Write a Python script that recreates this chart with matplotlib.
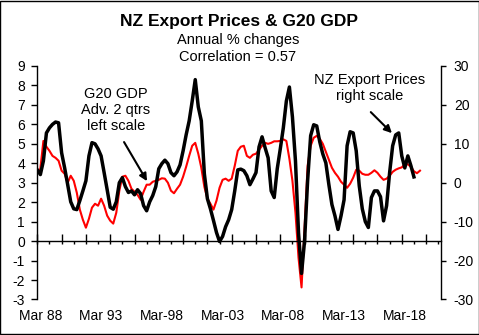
import numpy as np
import matplotlib
matplotlib.use("Agg")
import matplotlib.pyplot as plt
from matplotlib.patches import Rectangle

plt.rcParams['font.family'] = ['Liberation Sans', 'DejaVu Sans']
plt.rcParams['axes.unicode_minus'] = False

# Quarterly series, first observation Mar 1988
start_year = 1988.0

# NZ export prices, annual % change (right scale)
nz_export_prices = [
    3.3, 2.1, 5.6, 12.8, 14.1, 15.0, 15.6, 15.4, 7.7, 3.8,
    -0.5, -4.9, -6.7, -6.9, -4.6, -2.1, 0.5, 6.9, 10.3, 10.0,
    8.7, 6.9, 2.6, -1.8, -6.3, -6.8, -4.9, 0.0, 1.3, -1.0,
    -2.5, -2.1, -3.1, -1.8, -2.8, -5.9, -7.2, -4.9, -3.3, -1.0,
    3.6, 4.9, 5.8, 4.9, 2.6, 1.8, 2.8, 4.6, 8.2, 12.3,
    15.9, 21.0, 26.5, 19.5, 15.9, 2.3, -4.1, -6.7, -9.7, -12.8,
    -15.1, -13.8, -11.3, -9.5, -6.9, -2.1, 3.3, 3.5, 3.1, 1.8,
    -0.5, 1.0, 2.6, 9.2, 11.8, 9.0, 6.4, -2.1, -3.8, 3.6,
    8.7, 14.1, 21.0, 24.6, 16.9, 5.6, -12.8, -23.3, -14.9, 0.5,
    12.1, 14.9, 14.6, 10.5, 7.4, 5.1, -0.5, -5.6, -8.5, -12.0,
    -8.5, -4.4, 9.5, 13.1, 12.8, 8.2, -0.8, -6.7, -10.0, -11.5,
    -3.8, -2.1, -2.1, -3.6, -9.8, -5.9, 2.6, 9.5, 12.3, 12.8,
    6.9, 3.8, 6.9, 4.4, 1.5,
]

# G20 GDP, annual % change, advanced 2 quarters (left scale)
g20_gdp = [
    3.51, 3.72, 5.15, 4.85, 4.64, 4.38, 4.28, 4.13, 3.62, 3.46,
    3.00, 3.36, 3.10, 2.49, 1.62, 1.10, 0.69, 1.15, 1.72, 1.92,
    1.82, 2.18, 1.82, 1.31, 1.05, 0.90, 1.46, 2.59, 3.31, 3.36,
    3.10, 2.69, 2.54, 2.38, 2.13, 2.54, 2.90, 2.90, 3.05, 3.10,
    3.15, 3.23, 3.21, 3.00, 2.59, 2.46, 2.69, 2.90, 3.31, 3.82,
    4.38, 4.90, 5.05, 4.49, 3.77, 2.79, 2.18, 1.92, 1.62, 2.08,
    2.74, 3.15, 3.21, 3.10, 3.21, 3.87, 4.64, 4.85, 4.90, 4.38,
    4.28, 4.44, 4.49, 4.69, 4.90, 5.05, 5.00, 5.05, 5.13, 5.13,
    5.15, 5.23, 5.15, 4.23, 3.10, 1.46, -0.85, -2.38, 0.70, 3.87,
    4.90, 5.31, 5.41, 5.26, 5.00, 4.59, 4.18, 3.77, 3.51, 3.31,
    3.05, 2.90, 2.74, 2.95, 3.26, 3.67, 3.62, 3.46, 3.41, 3.41,
    3.51, 3.64, 3.51, 3.31, 3.15, 3.21, 3.36, 3.56, 3.67, 3.74,
    3.79, 3.95, 3.95, 3.82, 3.59, 3.49, 3.62,
]

label_years = [1988, 1993, 1998, 2003, 2008, 2013, 2018]
tick_labels = ["Mar 88", "Mar 93", "Mar-98", "Mar-03", "Mar-08", "Mar-13", "Mar-18"]

x_nz = start_year + 0.25 * np.arange(len(nz_export_prices))
x_gdp = start_year + 0.25 * np.arange(len(g20_gdp))

fig = plt.figure(figsize=(4.79, 3.35), dpi=100)
ax = fig.add_axes([0.0779, 0.106, 0.8438, 0.697])
ax2 = ax.twinx()

ax.plot(x_gdp, g20_gdp, color='#ff0000', lw=1.5, solid_joinstyle='round')
ax2.plot(x_nz, nz_export_prices, color='black', lw=2.5, solid_joinstyle='round')

ax.set_xlim(1988.0, 2021.27)
ax.set_ylim(-3, 9)
ax.set_yticks(np.arange(-3, 10, 1))
ax2.set_ylim(-30, 30)
ax2.set_yticks(np.arange(-30, 31, 10))

# x axis line sits on the zero line of the left scale
ax.spines['bottom'].set_position(('data', 0))
for side in ('top', 'right'):
    ax.spines[side].set_visible(False)
for side in ('top', 'bottom', 'left'):
    ax2.spines[side].set_visible(False)
for sp in list(ax.spines.values()) + [ax2.spines['right']]:
    sp.set_linewidth(1.0)

ax.xaxis.remove_overlapping_locs = False
ax.set_xticks(np.arange(1988, 2021, 2))
ax.set_xticks(np.arange(1988, 2022, 1), minor=True)
ax.tick_params(axis='x', which='major', direction='in', length=4.8, width=1.0,
               labelbottom=False)
ax.tick_params(axis='x', which='minor', direction='out', length=2.2, width=1.0)

ax.tick_params(axis='y', direction='out', length=4.0, width=1.0, pad=4.8,
               labelsize=10)
ax2.tick_params(axis='y', direction='out', length=3.6, width=1.0, pad=5.3,
                labelsize=10)

# date labels along the bottom edge of the plot area
sec = ax.secondary_xaxis(0)
sec.set_xticks(np.array(label_years) + 0.25, tick_labels)
sec.tick_params(length=0, pad=7, labelsize=10)
for sp in sec.spines.values():
    sp.set_visible(False)

fig.text(0.498, 0.935, "NZ Export Prices & G20 GDP", ha='center', va='center',
         fontsize=12.5, fontweight='bold')
fig.text(0.498, 0.881, "Annual % changes", ha='center', va='center', fontsize=10.5)
fig.text(0.496, 0.829, "Correlation = 0.57", ha='center', va='center', fontsize=10.5)

arrow = dict(arrowstyle='-|>', color='black', lw=1.5, mutation_scale=11,
             shrinkA=0, shrinkB=0)
ax.text(1994.48, 6.73, "G20 GDP\nAdv. 2 qtrs\nleft scale", ha='center', va='center',
        fontsize=10.5, linespacing=1.2)
ax.annotate("", xy=(1997.03, 3.08), xytext=(1995.14, 5.09), arrowprops=arrow)
ax.text(2015.37, 7.86, "NZ Export Prices\nright scale", ha='center', va='center',
        fontsize=10.5, linespacing=1.2)
ax.annotate("", xy=(2017.19, 5.55), xytext=(2015.45, 6.63), arrowprops=arrow)

fig.patches.append(Rectangle((0.001, 0.0015), 0.998, 0.997, transform=fig.transFigure,
                             fill=False, edgecolor='black', lw=1.0))

fig.savefig("out.png", dpi=100)
